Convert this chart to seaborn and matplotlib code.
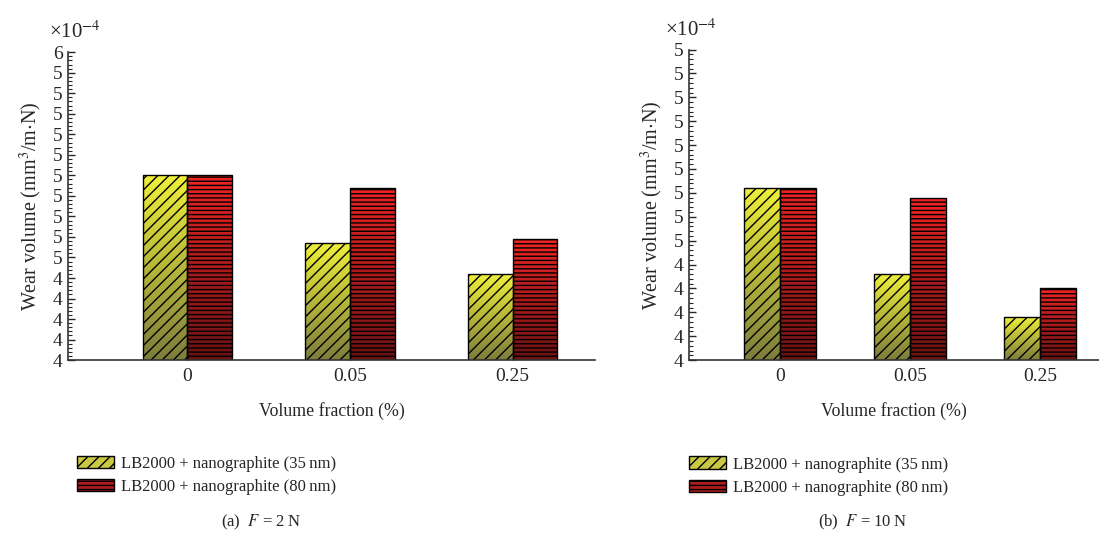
#importing libraries
import numpy as np
import pandas as pd
import seaborn as sns
import matplotlib
matplotlib.use('Agg')
import matplotlib.pyplot as plt
from matplotlib.ticker import FuncFormatter, AutoMinorLocator, FixedLocator
from matplotlib.colors import LinearSegmentedColormap
from matplotlib.patches import Patch

#data (mm^3/m.N)
fractions = ['0', '0.05', '0.25']
series = ['LB2000 + nanographite (35\u2009nm)', 'LB2000 + nanographite (80\u2009nm)']
wear_2N_35 = [4.90e-4, 4.57e-4, 4.42e-4]
wear_2N_80 = [4.90e-4, 4.84e-4, 4.59e-4]
wear_10N_35 = [4.72e-4, 4.36e-4, 4.18e-4]
wear_10N_80 = [4.72e-4, 4.68e-4, 4.30e-4]
captions = ['(a)  $F$ = 2\u2009N', '(b)  $F$ = 10\u2009N']

sns.set_style('ticks')
plt.rcParams['font.family'] = ['Liberation Serif', 'DejaVu Serif']
plt.rcParams['mathtext.fontset'] = 'stix'
plt.rcParams['hatch.linewidth'] = 1.0

yellow_cmap = LinearSegmentedColormap.from_list('yel', ['#7d7d3c', '#f0f03a'])
red_cmap = LinearSegmentedColormap.from_list('red', ['#6a1212', '#f02424'])
hatches = ['///', '----']

def matlab_round(v, pos):
    return str(int(np.floor(v * 1e4 + 0.5 + 1e-6)))

def draw_panel(ax, v35, v80, ymax, xlim, caption, cap_x, leg_x, off_px):
    df = pd.DataFrame({
        'fraction': fractions * 2,
        'series': [series[0]] * 3 + [series[1]] * 3,
        'wear': list(v35) + list(v80),
    })
    sns.barplot(data=df, x='fraction', y='wear', hue='series', order=fractions,
                hue_order=series, width=0.55, gap=0, palette=['#d0d040', '#c02020'],
                legend=False, ax=ax)
    ax.set_ylim(4e-4, ymax)
    ax.set_xlim(*xlim)
    grad = np.linspace(0, 1, 256).reshape(-1, 1)
    bars = [p for p in ax.patches]
    for i, p in enumerate(bars):
        k = i // 3
        x0, y0 = p.get_x(), 4e-4
        x1, y1 = x0 + p.get_width(), p.get_y() + p.get_height()
        im = ax.imshow(grad, cmap=yellow_cmap if k == 0 else red_cmap, origin='lower',
                       extent=[x0, x1, y0, y1], aspect='auto', zorder=1.5)
        im.set_clip_path(p)
        p.set_facecolor('none')
        p.set_edgecolor('black')
        p.set_linewidth(1.0)
        p.set_hatch(hatches[k])
        p.set_zorder(2)
    ax.set_ylim(4e-4, ymax)
    ax.set_xlim(*xlim)
    n = int(round((ymax - 4e-4) * 1e5)) + 1
    ax.yaxis.set_major_locator(FixedLocator(np.linspace(4e-4, ymax, n)))
    ax.yaxis.set_minor_locator(AutoMinorLocator(5))
    ax.yaxis.set_major_formatter(FuncFormatter(matlab_round))
    ax.tick_params(axis='y', which='major', length=5, width=1, labelsize=14, direction='in', pad=4)
    ax.tick_params(axis='y', which='minor', length=3, width=0.8, direction='in')
    ax.tick_params(axis='x', which='major', length=5, width=1, labelsize=14, direction='in', pad=6)
    sns.despine(ax=ax)
    for s in ['left', 'bottom']:
        ax.spines[s].set_linewidth(1.2)
        ax.spines[s].set_color('#333333')
    ax.set_xlabel('Volume fraction (%)', fontsize=12.8, labelpad=12)
    ax.set_ylabel('Wear volume (mm$^3$/m$\\cdot$N)', fontsize=14.5, labelpad=6)
    ax.annotate('\u00d710$^{-4}$', xy=(0, 1), xycoords='axes fraction',
                xytext=(off_px, 9), textcoords='offset pixels', fontsize=15,
                ha='left', va='bottom')
    handles = [Patch(facecolor='#c8c843', edgecolor='black', hatch=hatches[0], label=series[0]),
               Patch(facecolor='#b01c1c', edgecolor='black', hatch=hatches[1], label=series[1])]
    ax.legend(handles=handles, loc='upper left', bbox_to_anchor=(leg_x, -0.31), frameon=False,
              fontsize=12, handlelength=2.2, handleheight=0.8, labelspacing=0.42,
              handletextpad=0.45, borderaxespad=0, borderpad=0)
    fig.text(cap_x, 0.04, caption, fontsize=12, ha='center', va='center')

fig = plt.figure(figsize=(10.99, 5.44), dpi=100)
ax1 = fig.add_axes([0.0619, 0.338, 0.4795, 0.566])
ax2 = fig.add_axes([0.627, 0.338, 0.373, 0.571])

draw_panel(ax1, wear_2N_35, wear_2N_80, 5.5e-4, (-0.733, 2.506), captions[0], 0.237, 0.017, -19)
draw_panel(ax2, wear_10N_35, wear_10N_80, 5.3e-4, (-0.70, 2.454), captions[1], 0.785, 0.0, -24)

fig.savefig('out.png', dpi=100)
